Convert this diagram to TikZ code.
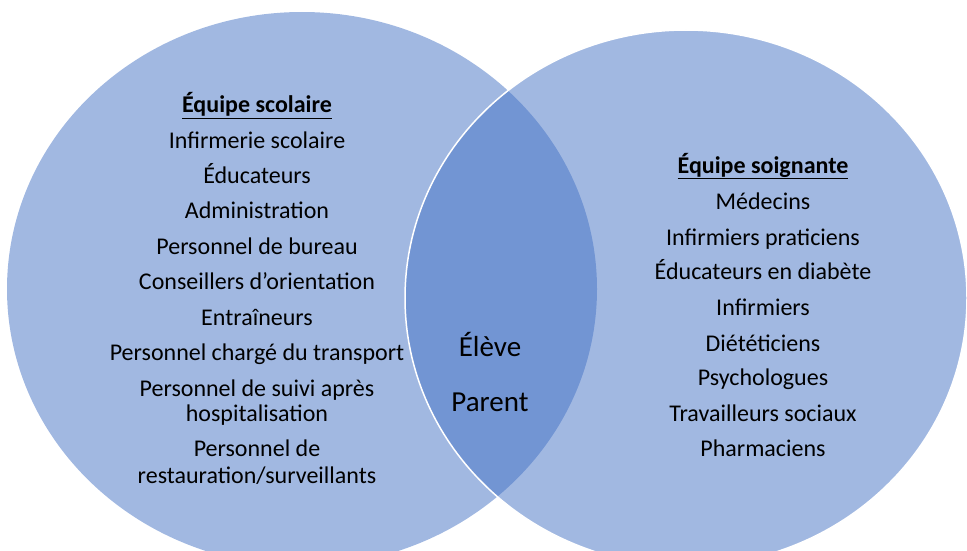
\documentclass[tikz,border=0pt]{standalone}
\usepackage{fontspec}
\setmainfont{Carlito}
\definecolor{accent}{HTML}{4472C4}
\tikzset{
  setfill/.style={fill=accent, fill opacity=0.5},
  item/.style={anchor=base, text=black, font=\fontsize{24}{25}\selectfont, align=center, inner sep=0pt},
  heading/.style={item, font=\fontsize{24}{25}\selectfont\bfseries},
  member/.style={anchor=base, text=black, font=\fontsize{29}{30}\selectfont, inner sep=0pt}
}
\begin{document}
\begin{tikzpicture}[x=1pt, y=-1pt]
\useasboundingbox (0,0) rectangle (967,551);
\clip (0,0) rectangle (967,551);
% the two overlapping sets
\fill[setfill] (302,289) ellipse [x radius=295pt, y radius=277pt];
\fill[setfill] (686,298) ellipse [x radius=281pt, y radius=268pt];
\draw[white, line width=1.5pt] (686,298) ellipse [x radius=281pt, y radius=268pt];

% school team
\node[heading] (s0) at (257,113) {\underline{Équipe scolaire}};
\node[item] (s1) at (257,148) {Infirmerie scolaire};
\node[item] (s2) at (257,183) {Éducateurs};
\node[item] (s3) at (257,218) {Administration};
\node[item] (s4) at (257,254) {Personnel de bureau};
\node[item] (s5) at (257,289) {Conseillers d’orientation};
\node[item] (s6) at (257,325) {Entraîneurs};
\node[item] (s7) at (257,360) {Personnel chargé du transport};
\node[item] (s8a) at (257,396) {Personnel de suivi après};
\node[item] (s8b) at (257,421) {hospitalisation};
\node[item] (s9a) at (257,456) {Personnel de};
\node[item] (s9b) at (257,483) {restauration/surveillants};

% care team
\node[heading] (c0) at (763,173) {\underline{Équipe soignante}};
\node[item] (c1) at (763,209) {Médecins};
\node[item] (c2) at (763,245) {Infirmiers praticiens};
\node[item] (c3) at (763,279) {Éducateurs en diabète};
\node[item] (c4) at (763,315) {Infirmiers};
\node[item] (c5) at (763,351) {Diététiciens};
\node[item] (c6) at (763,385) {Psychologues};
\node[item] (c7) at (763,421) {Travailleurs sociaux};
\node[item] (c8) at (763,456) {Pharmaciens};

% shared members
\node[member] (m1) at (490,356) {Élève};
\node[member] (m2) at (490,411) {Parent};
\end{tikzpicture}
\end{document}
